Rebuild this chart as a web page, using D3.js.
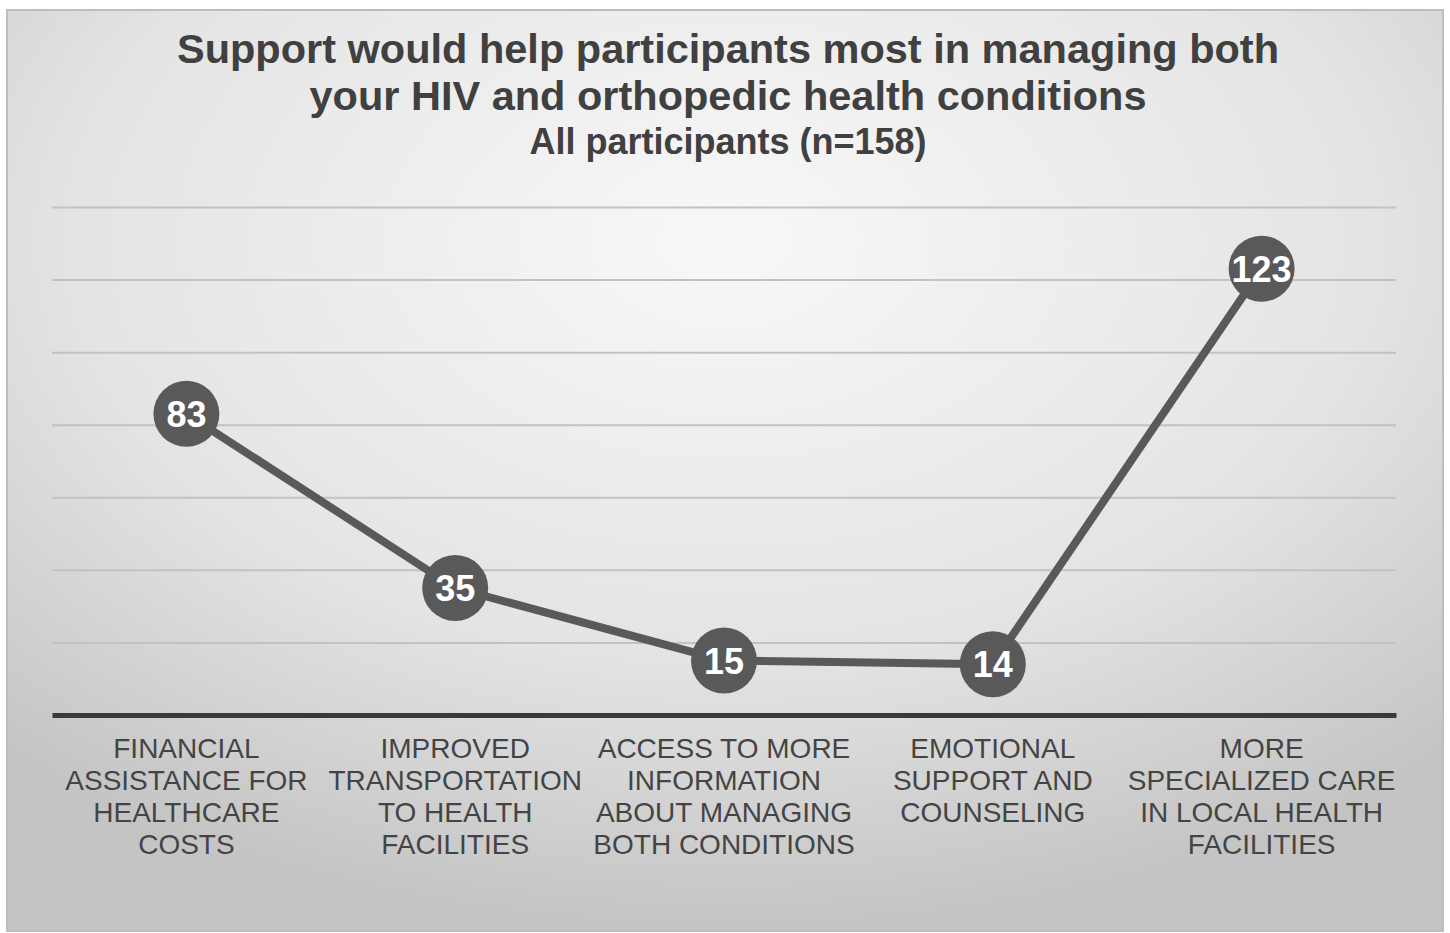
<!DOCTYPE html>
<html><head><meta charset="utf-8">
<script src="https://cdn.jsdelivr.net/npm/d3@7"></script>
<style>html,body{margin:0;padding:0;background:#fff;}svg{display:block;}</style>
</head><body>
<svg id="c" width="1450" height="933"></svg>
<script>
const categories = [
  ["FINANCIAL","ASSISTANCE FOR","HEALTHCARE","COSTS"],
  ["IMPROVED","TRANSPORTATION","TO HEALTH","FACILITIES"],
  ["ACCESS TO MORE","INFORMATION","ABOUT MANAGING","BOTH CONDITIONS"],
  ["EMOTIONAL","SUPPORT AND","COUNSELING"],
  ["MORE","SPECIALIZED CARE","IN LOCAL HEALTH","FACILITIES"]
];
const values = [83, 35, 15, 14, 123];
const yTicks = [20, 40, 60, 80, 100, 120, 140];
const titleLines = ["Support would help participants most in managing both","your HIV and orthopedic health conditions"];
const subtitle = "All participants (n=158)";

const svg = d3.select("#c");
const defs = svg.append("defs");
const g1 = defs.append("radialGradient").attr("id","bg").attr("cx","50%").attr("cy","25%").attr("r","75%");
g1.append("stop").attr("offset","0%").attr("stop-color","#f8f8f8");
g1.append("stop").attr("offset","60%").attr("stop-color","#e4e4e4");
g1.append("stop").attr("offset","100%").attr("stop-color","#c4c4c4");

svg.append("rect").attr("x",7).attr("y",10).attr("width",1436).attr("height",921)
  .attr("fill","url(#bg)").attr("stroke","#bdbdbd").attr("stroke-width",2);

const x = d3.scaleBand().domain(d3.range(values.length)).range([52,1396]);
const y = d3.scaleLinear().domain([0,140]).range([715,207]);

const gridG = svg.append("g").attr("transform","translate(52,0)")
  .call(d3.axisLeft(y).tickValues(yTicks).tickSize(-(1396-52)).tickFormat(""));
gridG.select(".domain").remove();
gridG.selectAll(".tick line").attr("stroke","#c2c2c2").attr("stroke-width",2);

const xAxis = svg.append("g").attr("transform","translate(0,715)")
  .call(d3.axisBottom(x).tickSize(0).tickFormat(""));
xAxis.select(".domain").attr("stroke","#3a3a3a").attr("stroke-width",5);

const cx = i => x(i) + x.bandwidth()/2;
const line = d3.line().x((d,i)=>cx(i)).y(d=>y(d));
svg.append("path").datum(values).attr("d",line).attr("fill","none")
  .attr("stroke","#595959").attr("stroke-width",8).attr("stroke-linejoin","round");

const pts = svg.append("g").selectAll("g").data(values).join("g")
  .attr("transform",(d,i)=>`translate(${cx(i)},${y(d)})`);
pts.append("circle").attr("r",33).attr("fill","#595959");
pts.append("text").text(d=>d).attr("text-anchor","middle").attr("dy","0.36em")
  .attr("fill","#ffffff").attr("font-family","Liberation Sans, Arial, sans-serif")
  .attr("font-weight","bold").attr("font-size",36);

const lab = svg.append("g").selectAll("text").data(categories).join("text")
  .attr("text-anchor","middle").attr("fill","#444")
  .attr("font-family","Liberation Sans, Arial, sans-serif").attr("font-size",28);
lab.each(function(lines,i){
  d3.select(this).selectAll("tspan").data(lines).join("tspan")
    .attr("x",cx(i)).attr("y",(d,j)=>758+j*32).text(d=>d);
});

const t = svg.append("g").attr("font-family","Liberation Sans, Arial, sans-serif")
  .attr("font-weight","bold").attr("fill","#404040").attr("text-anchor","middle");
t.selectAll("text.tl").data(titleLines).join("text").attr("class","tl")
  .attr("x",728).attr("y",(d,i)=>63+i*47).attr("font-size",41.5).text(d=>d);
t.append("text").attr("x",728).attr("y",154).attr("font-size",36).text(subtitle);
</script>
</body></html>
